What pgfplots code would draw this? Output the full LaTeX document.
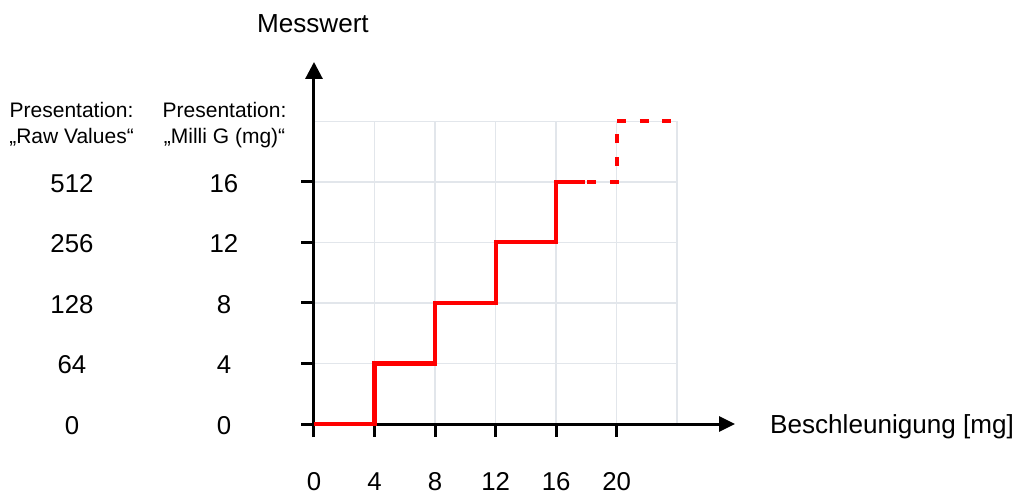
\documentclass[border=0pt]{standalone}
\usepackage{pgfplots}
\pgfplotsset{compat=1.18}
\usetikzlibrary{arrows.meta}
\usepackage{fontspec}
\setmainfont{Liberation Sans}
\definecolor{gridgray}{RGB}{226,230,235}
\definecolor{stepred}{RGB}{255,0,0}
\newcommand{\yl}[2]{\makebox[0pt][c]{#1}\hspace{152pt}\makebox[0pt][c]{#2}}
\begin{document}
\begin{tikzpicture}
\begin{axis}[
  at={(0pt,0pt)}, anchor=origin,
  x=15.135pt, y=15.135pt,
  xmin=0, xmax=24, ymin=0, ymax=20,
  clip=false,
  axis line style={draw=none},
  xtick={0,4,8,12,16,20},
  ytick={0,4,8,12,16},
  xticklabels={0,4,8,12,16,20},
  yticklabels={{\yl{0}{0}},{\yl{64}{4}},{\yl{128}{8}},{\yl{256}{12}},{\yl{512}{16}}},
  xtick pos=bottom, ytick pos=left,
  tick align=outside,
  major tick length=12.5pt,
  every tick/.style={black, line width=3pt},
  grid=major,
  major grid style={draw=gridgray, line width=1.5pt},
  extra x ticks={24}, extra x tick labels={},
  extra x tick style={major tick length=0pt, grid=major},
  extra y ticks={20}, extra y tick labels={},
  extra y tick style={major tick length=0pt, grid=major},
  /pgf/number format/assume math mode=true,
  ticklabel style={font=\fontsize{25.8}{30}\selectfont},
  xticklabel style={anchor=center, inner sep=0pt, yshift=-45pt},
  yticklabel style={anchor=center, inner sep=0pt, xshift=-153.5pt, yshift=-1.5pt},
  xlabel={Beschleunigung [mg]},
  ylabel={Messwert},
  label style={font=\fontsize{26.1}{30}\selectfont},
  xlabel style={at={(axis description cs:1.2554,-0.033)}, anchor=base west, inner sep=0pt},
  ylabel style={at={(axis description cs:-0.003,1.2917)}, anchor=base, rotate=-90, inner sep=0pt},
]
\draw[line width=3pt, -{Triangle[length=17pt,width=17pt]}] (axis cs:0,-0.86) -- (axis cs:0,23.92);
\draw[line width=3pt, -{Triangle[length=16pt,width=15pt]}] (axis cs:-0.8,0) -- (axis cs:27.82,0);
\addplot[stepred, line width=4.2pt, const plot, line join=miter] coordinates {(0,0) (4,4) (8,8) (12,12) (16,16) (17.9,16)};
\addplot[stepred, line width=4.2pt, const plot, line join=miter, dash pattern=on 9pt off 13.6pt] coordinates {(18.06,16) (20,20) (24,20)};
\node[font=\fontsize{21}{25}\selectfont, anchor=base, inner sep=0pt] at (axis cs:-16.02,20.28) {Presentation:};
\node[font=\fontsize{21}{25}\selectfont, anchor=base, inner sep=0pt] at (axis cs:-16.02,18.53) {„Raw Values“};
\node[font=\fontsize{21}{25}\selectfont, anchor=base, inner sep=0pt] at (axis cs:-5.91,20.28) {Presentation:};
\node[font=\fontsize{21}{25}\selectfont, anchor=base, inner sep=0pt] at (axis cs:-5.91,18.53) {„Milli G (mg)“};
\end{axis}
\pgfresetboundingbox
\useasboundingbox (-314pt,-72pt) rectangle (705pt,424pt);
\end{tikzpicture}
\end{document}
